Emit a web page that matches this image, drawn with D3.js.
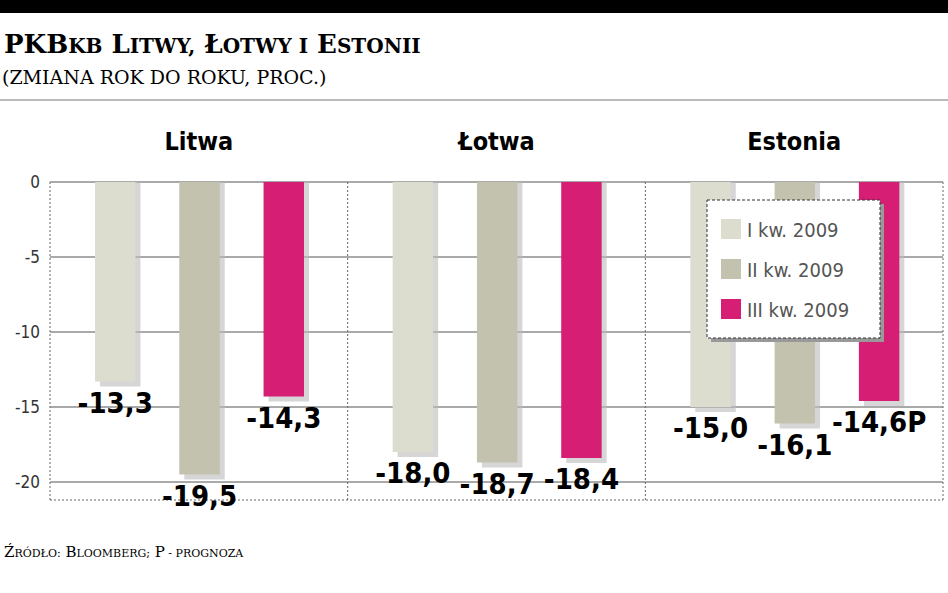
<!DOCTYPE html>
<html><head><meta charset="utf-8">
<script src="https://cdn.jsdelivr.net/npm/d3@7"></script>
<style>body{margin:0;background:#fff}</style>
</head><body>
<svg id="c" width="948" height="593"></svg>
<script>
// dane
var countries = ['Litwa','Łotwa','Estonia'];
var quarters = ['I kw. 2009','II kw. 2009','III kw. 2009'];
var q1 = [-13.3,-18.0,-15.0];
var q2 = [-19.5,-18.7,-16.1];
var q3 = [-14.3,-18.4,-14.6];
var labelSuffix = ['','','P'];
var yTicks = [0,-5,-10,-15,-20];
var colors = ['#dcdccf','#c2c2ae','#d61f74'];

var svg = d3.select('#c');
var cond = 'font-family:"DejaVu Sans Condensed","DejaVu Sans";font-stretch:condensed;';
var serif = 'font-family:"DejaVu Serif";';

// small caps by hand: first letters big, rest upper-case smaller
function smallCaps(sel, str, big, small){
    str.split(' ').forEach(function(w,i){
        var first = w.charAt(0), rest = w.slice(1);
        var firstBig = first === first.toUpperCase() && /[A-ZŁŹ]/.test(first);
        sel.append('tspan').attr('font-size',firstBig?big:small).text((i?' ':'')+first.toUpperCase());
        if(rest) sel.append('tspan').attr('font-size',small).text(rest.toUpperCase());
    });
}

svg.append('rect').attr('width',948).attr('height',13).attr('fill','#000');
smallCaps(svg.append('text').attr('x',4).attr('y',53).attr('style',serif+'font-weight:bold'),'PKB Litwy, Łotwy i Estonii',26,20);
svg.select('text tspan').text('PKB');
svg.append('text').attr('x',2).attr('y',84).attr('style',serif+'font-size:19px')
    .text('(ZMIANA ROK DO ROKU, PROC.)');
svg.append('line').attr('x1',0).attr('x2',948).attr('y1',100).attr('y2',100).attr('stroke','#777');

var x0 = d3.scaleBand().domain(countries).range([50,943]);
var x1 = d3.scaleBand().domain([0,1,2]).range([45,254]).paddingInner(0.52).paddingOuter(0);
var y = d3.scaleLinear().domain([0,-20]).range([182,482]);

// siatka
svg.append('g').selectAll('line').data(yTicks).join('line')
    .attr('x1',50).attr('x2',943).attr('y1',function(d){return y(d);}).attr('y2',function(d){return y(d);})
    .attr('stroke','#555').attr('stroke-width',1);
svg.append('g').selectAll('text').data(yTicks).join('text')
    .attr('x',40).attr('y',function(d){return y(d)+6;}).attr('text-anchor','end')
    .attr('style',cond+'font-size:17px;fill:#333').text(function(d){return d;});
svg.append('g').selectAll('line').data([50,x0('Łotwa'),x0('Estonia'),943]).join('line')
    .attr('x1',function(d){return d;}).attr('x2',function(d){return d;}).attr('y1',182).attr('y2',500)
    .attr('stroke','#666').attr('stroke-dasharray','2,2');
svg.append('line').attr('x1',50).attr('x2',943).attr('y1',500).attr('y2',500).attr('stroke','#666').attr('stroke-dasharray','2,2');

svg.append('g').selectAll('text').data(countries).join('text')
    .attr('x',function(d){return x0(d)+x0.bandwidth()/2;}).attr('y',150).attr('text-anchor','middle')
    .attr('style',cond+'font-weight:bold;font-size:25px').text(function(d){return d;});

var series = [q1,q2,q3];
var bars = [];
countries.forEach(function(c,i){
    series.forEach(function(s,j){ bars.push({c:c,s:j,v:s[i]}); });
});
function bx(d){return x0(d.c)+x1(d.s);}
var g = svg.append('g');
g.selectAll('rect.sh').data(bars).join('rect')
    .attr('x',function(d){return bx(d)+5;}).attr('y',y(0)).attr('width',x1.bandwidth())
    .attr('height',function(d){return y(d.v)-y(0)+5;}).attr('fill','#bbb').attr('opacity',0.6);
g.selectAll('rect.b').data(bars).join('rect')
    .attr('x',bx).attr('y',y(0)).attr('width',x1.bandwidth())
    .attr('height',function(d){return y(d.v)-y(0);}).attr('fill',function(d){return colors[d.s];});
g.selectAll('text').data(bars).join('text')
    .attr('x',function(d){return bx(d)+x1.bandwidth()/2;}).attr('y',function(d){return y(d.v)+31;})
    .attr('text-anchor','middle').attr('style',cond+'font-weight:bold;font-size:29px')
    .text(function(d){return d3.format('.1f')(d.v).replace('.',',').replace('−','-')+(d.s==2?labelSuffix[countries.indexOf(d.c)]:'');});

// legenda
var lg = svg.append('g').attr('transform','translate(707,200)');
lg.append('rect').attr('x',4).attr('y',4).attr('width',173).attr('height',138).attr('fill','#999');
lg.append('rect').attr('width',173).attr('height',138).attr('fill','#fff').attr('stroke','#333').attr('stroke-dasharray','3,2');
quarters.forEach(function(q,i){
    lg.append('rect').attr('x',14).attr('y',19+i*40).attr('width',20).attr('height',20).attr('fill',colors[i]);
    lg.append('text').attr('x',40).attr('y',37+i*40).attr('style',cond+'font-size:20px;fill:#555').text(q);
});

smallCaps(svg.append('text').attr('x',4).attr('y',557).attr('style',serif),'Źródło: Bloomberg; P - prognoza',15,11);
</script>
</body></html>
